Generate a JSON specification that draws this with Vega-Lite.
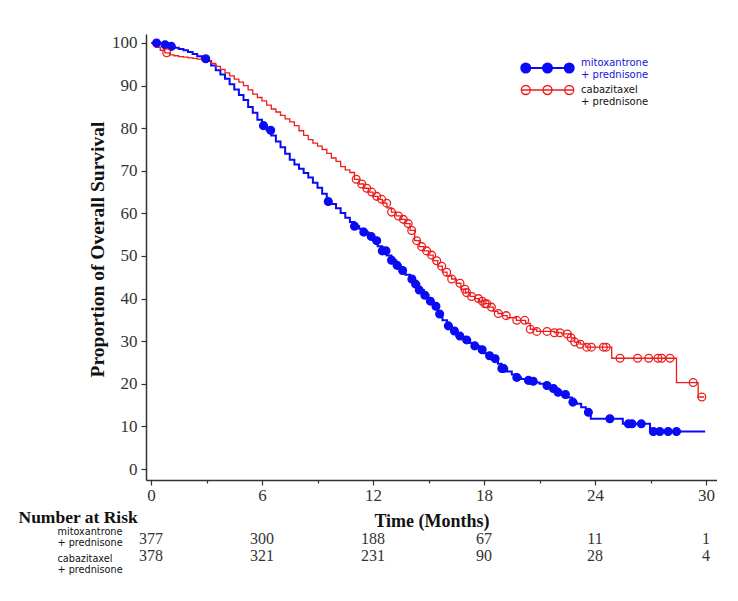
{
  "$schema": "https://vega.github.io/schema/vega-lite/v6.json",
  "background": "white",
  "padding": {"left": 18, "top": 33, "right": 0, "bottom": 0},
  "bounds": "flush",
  "spacing": 50.5,
  "config": {"view": {"stroke": null}},
  "datasets": {
    "km": [
      {"a":"M","t":0,"s":100},{"a":"M","t":0.6,"s":99.6},{"a":"M","t":1.0,"s":99.2},{"a":"M","t":1.25,"s":98.9},{"a":"M","t":1.5,"s":98.6},{"a":"M","t":1.75,"s":98.3},{"a":"M","t":2.0,"s":97.9},{"a":"M","t":2.25,"s":97.4},{"a":"M","t":2.5,"s":96.9},{"a":"M","t":2.75,"s":96.3},{"a":"M","t":3.0,"s":95.8},{"a":"M","t":3.25,"s":94.7},{"a":"M","t":3.5,"s":93.6},{"a":"M","t":3.75,"s":92.6},{"a":"M","t":4.0,"s":91.6},{"a":"M","t":4.25,"s":90.3},{"a":"M","t":4.5,"s":89.1},{"a":"M","t":4.75,"s":87.8},{"a":"M","t":5.0,"s":86.6},{"a":"M","t":5.25,"s":85.0},{"a":"M","t":5.5,"s":83.6},{"a":"M","t":5.75,"s":82.0},{"a":"M","t":6.0,"s":80.6},{"a":"M","t":6.25,"s":79.5},{"a":"M","t":6.5,"s":78.3},{"a":"M","t":6.75,"s":76.9},{"a":"M","t":7.0,"s":75.5},{"a":"M","t":7.25,"s":74.0},{"a":"M","t":7.5,"s":72.6},{"a":"M","t":7.75,"s":71.5},{"a":"M","t":8.0,"s":70.5},{"a":"M","t":8.25,"s":69.5},{"a":"M","t":8.5,"s":68.4},{"a":"M","t":8.75,"s":67.2},{"a":"M","t":9.0,"s":66.0},{"a":"M","t":9.25,"s":64.6},{"a":"M","t":9.5,"s":62.8},{"a":"M","t":9.75,"s":62.2},{"a":"M","t":10.0,"s":61.2},{"a":"M","t":10.25,"s":60.1},{"a":"M","t":10.5,"s":59.0},{"a":"M","t":10.75,"s":58.0},{"a":"M","t":11.0,"s":57.0},{"a":"M","t":11.25,"s":56.4},{"a":"M","t":11.5,"s":55.6},{"a":"M","t":11.75,"s":54.6},{"a":"M","t":12.0,"s":53.6},{"a":"M","t":12.25,"s":52.3},{"a":"M","t":12.5,"s":51.2},{"a":"M","t":12.75,"s":50.1},{"a":"M","t":13.0,"s":49.0},{"a":"M","t":13.25,"s":47.8},{"a":"M","t":13.5,"s":46.6},{"a":"M","t":13.75,"s":45.6},{"a":"M","t":14.0,"s":44.6},{"a":"M","t":14.25,"s":43.4},{"a":"M","t":14.5,"s":42.0},{"a":"M","t":14.75,"s":40.8},{"a":"M","t":15.0,"s":39.4},{"a":"M","t":15.25,"s":38.2},{"a":"M","t":15.5,"s":36.4},{"a":"M","t":15.75,"s":34.9},{"a":"M","t":16.0,"s":33.6},{"a":"M","t":16.25,"s":32.4},{"a":"M","t":16.5,"s":31.2},{"a":"M","t":16.75,"s":30.8},{"a":"M","t":17.0,"s":30.3},{"a":"M","t":17.25,"s":29.6},{"a":"M","t":17.5,"s":28.9},{"a":"M","t":17.75,"s":28.0},{"a":"M","t":18.0,"s":27.2},{"a":"M","t":18.25,"s":26.6},{"a":"M","t":18.5,"s":25.9},{"a":"M","t":18.75,"s":24.7},{"a":"M","t":18.95,"s":23.6},{"a":"M","t":19.25,"s":22.9},{"a":"M","t":19.5,"s":22.2},{"a":"M","t":19.75,"s":21.5},{"a":"M","t":20.0,"s":21.1},{"a":"M","t":20.25,"s":20.8},{"a":"M","t":20.5,"s":20.6},{"a":"M","t":20.75,"s":20.3},{"a":"M","t":21.0,"s":20.0},{"a":"M","t":21.25,"s":19.6},{"a":"M","t":21.5,"s":19.3},{"a":"M","t":21.75,"s":18.9},{"a":"M","t":22.0,"s":18.0},{"a":"M","t":22.25,"s":17.5},{"a":"M","t":22.5,"s":16.8},{"a":"M","t":22.75,"s":15.7},{"a":"M","t":23.0,"s":15.3},{"a":"M","t":23.25,"s":14.5},{"a":"M","t":23.5,"s":13.3},{"a":"M","t":23.77,"s":11.8},{"a":"M","t":25.5,"s":10.6},{"a":"M","t":26.97,"s":8.8},{"a":"M","t":29.95,"s":8.8},
      {"a":"C","t":0,"s":100},{"a":"C","t":0.25,"s":99.0},{"a":"C","t":0.5,"s":98.3},{"a":"C","t":0.75,"s":97.7},{"a":"C","t":1.0,"s":97.2},{"a":"C","t":1.25,"s":97.0},{"a":"C","t":1.5,"s":96.8},{"a":"C","t":1.75,"s":96.7},{"a":"C","t":2.0,"s":96.5},{"a":"C","t":2.25,"s":96.4},{"a":"C","t":2.5,"s":96.2},{"a":"C","t":2.75,"s":96.0},{"a":"C","t":3.0,"s":95.8},{"a":"C","t":3.25,"s":95.2},{"a":"C","t":3.5,"s":94.5},{"a":"C","t":3.75,"s":93.8},{"a":"C","t":4.0,"s":93.0},{"a":"C","t":4.25,"s":92.3},{"a":"C","t":4.5,"s":91.5},{"a":"C","t":4.75,"s":90.8},{"a":"C","t":5.0,"s":90.0},{"a":"C","t":5.25,"s":89.0},{"a":"C","t":5.5,"s":88.0},{"a":"C","t":5.75,"s":87.2},{"a":"C","t":6.0,"s":86.4},{"a":"C","t":6.25,"s":85.4},{"a":"C","t":6.5,"s":84.5},{"a":"C","t":6.75,"s":83.8},{"a":"C","t":7.0,"s":83.0},{"a":"C","t":7.25,"s":82.2},{"a":"C","t":7.5,"s":81.5},{"a":"C","t":7.75,"s":80.6},{"a":"C","t":8.0,"s":79.4},{"a":"C","t":8.25,"s":78.3},{"a":"C","t":8.5,"s":77.3},{"a":"C","t":8.75,"s":76.5},{"a":"C","t":9.0,"s":75.8},{"a":"C","t":9.25,"s":75.0},{"a":"C","t":9.5,"s":74.1},{"a":"C","t":9.75,"s":73.0},{"a":"C","t":10.0,"s":72.2},{"a":"C","t":10.25,"s":71.0},{"a":"C","t":10.5,"s":70.2},{"a":"C","t":10.75,"s":69.6},{"a":"C","t":11.0,"s":68.0},{"a":"C","t":11.25,"s":66.9},{"a":"C","t":11.5,"s":65.9},{"a":"C","t":11.75,"s":65.0},{"a":"C","t":12.0,"s":64.0},{"a":"C","t":12.25,"s":63.3},{"a":"C","t":12.5,"s":62.4},{"a":"C","t":12.75,"s":61.3},{"a":"C","t":13.0,"s":60.3},{"a":"C","t":13.25,"s":59.4},{"a":"C","t":13.5,"s":58.6},{"a":"C","t":13.75,"s":57.6},{"a":"C","t":14.0,"s":56.0},{"a":"C","t":14.25,"s":53.6},{"a":"C","t":14.5,"s":52.2},{"a":"C","t":14.75,"s":51.2},{"a":"C","t":15.0,"s":50.2},{"a":"C","t":15.25,"s":48.9},{"a":"C","t":15.5,"s":47.6},{"a":"C","t":15.75,"s":46.2},{"a":"C","t":16.0,"s":45.3},{"a":"C","t":16.25,"s":44.6},{"a":"C","t":16.5,"s":43.6},{"a":"C","t":16.75,"s":42.2},{"a":"C","t":17.0,"s":41.4},{"a":"C","t":17.25,"s":40.5},{"a":"C","t":17.5,"s":40.0},{"a":"C","t":17.75,"s":39.4},{"a":"C","t":18.0,"s":38.8},{"a":"C","t":18.25,"s":38.0},{"a":"C","t":18.5,"s":37.0},{"a":"C","t":18.75,"s":36.5},{"a":"C","t":19.0,"s":36.0},{"a":"C","t":19.25,"s":35.5},{"a":"C","t":19.75,"s":34.9},{"a":"C","t":20.25,"s":34.2},{"a":"C","t":20.5,"s":32.8},{"a":"C","t":20.85,"s":32.3},{"a":"C","t":21.8,"s":32.0},{"a":"C","t":22.2,"s":31.7},{"a":"C","t":22.7,"s":30.8},{"a":"C","t":22.9,"s":29.8},{"a":"C","t":23.2,"s":29.3},{"a":"C","t":23.5,"s":28.6},{"a":"C","t":24.9,"s":26.0},{"a":"C","t":28.4,"s":20.3},{"a":"C","t":29.57,"s":16.9},{"a":"C","t":29.9,"s":16.9}
    ],
    "censor": [
      {"a":"M","t":0.3,"s":100},{"a":"M","t":0.76,"s":99.6},{"a":"M","t":1.1,"s":99.2},{"a":"M","t":2.96,"s":96.3},{"a":"M","t":6.08,"s":80.6},{"a":"M","t":6.47,"s":79.5},{"a":"M","t":9.58,"s":62.8},{"a":"M","t":11.0,"s":57.0},{"a":"M","t":11.5,"s":55.6},{"a":"M","t":11.9,"s":54.6},{"a":"M","t":12.2,"s":53.6},{"a":"M","t":12.5,"s":51.2},{"a":"M","t":12.7,"s":51.2},{"a":"M","t":13.0,"s":49.0},{"a":"M","t":13.3,"s":47.8},{"a":"M","t":13.6,"s":46.6},{"a":"M","t":14.1,"s":44.6},{"a":"M","t":14.3,"s":43.4},{"a":"M","t":14.5,"s":42.0},{"a":"M","t":14.8,"s":40.8},{"a":"M","t":15.1,"s":39.4},{"a":"M","t":15.4,"s":38.2},{"a":"M","t":15.6,"s":36.4},{"a":"M","t":16.07,"s":33.6},{"a":"M","t":16.4,"s":32.4},{"a":"M","t":16.7,"s":31.2},{"a":"M","t":17.06,"s":30.3},{"a":"M","t":17.5,"s":28.9},{"a":"M","t":17.9,"s":28.0},{"a":"M","t":18.3,"s":26.6},{"a":"M","t":18.6,"s":25.9},{"a":"M","t":18.96,"s":23.6},{"a":"M","t":19.05,"s":23.6},{"a":"M","t":19.77,"s":21.5},{"a":"M","t":20.4,"s":20.8},{"a":"M","t":20.66,"s":20.6},{"a":"M","t":21.4,"s":19.6},{"a":"M","t":21.75,"s":18.9},{"a":"M","t":22.0,"s":18.0},{"a":"M","t":22.4,"s":17.5},{"a":"M","t":22.8,"s":15.7},{"a":"M","t":23.64,"s":13.3},{"a":"M","t":24.8,"s":11.8},{"a":"M","t":25.8,"s":10.6},{"a":"M","t":26.0,"s":10.6},{"a":"M","t":26.5,"s":10.6},{"a":"M","t":27.15,"s":8.8},{"a":"M","t":27.5,"s":8.8},{"a":"M","t":27.95,"s":8.8},{"a":"M","t":28.4,"s":8.8},
      {"a":"C","t":0.85,"s":97.7},{"a":"C","t":11.09,"s":68.0},{"a":"C","t":11.39,"s":66.9},{"a":"C","t":11.66,"s":65.9},{"a":"C","t":11.93,"s":65.0},{"a":"C","t":12.2,"s":64.0},{"a":"C","t":12.47,"s":63.3},{"a":"C","t":12.74,"s":62.4},{"a":"C","t":13.0,"s":60.3},{"a":"C","t":13.37,"s":59.4},{"a":"C","t":13.64,"s":58.6},{"a":"C","t":13.9,"s":57.6},{"a":"C","t":14.09,"s":56.0},{"a":"C","t":14.36,"s":53.6},{"a":"C","t":14.63,"s":52.2},{"a":"C","t":14.9,"s":51.2},{"a":"C","t":15.17,"s":50.2},{"a":"C","t":15.44,"s":48.9},{"a":"C","t":15.71,"s":47.6},{"a":"C","t":15.98,"s":46.2},{"a":"C","t":16.25,"s":44.6},{"a":"C","t":16.7,"s":43.6},{"a":"C","t":16.97,"s":42.2},{"a":"C","t":17.06,"s":41.4},{"a":"C","t":17.33,"s":40.5},{"a":"C","t":17.7,"s":40.0},{"a":"C","t":17.9,"s":39.4},{"a":"C","t":18.05,"s":38.8},{"a":"C","t":18.15,"s":38.8},{"a":"C","t":18.4,"s":38.0},{"a":"C","t":18.77,"s":36.5},{"a":"C","t":19.2,"s":36.0},{"a":"C","t":19.77,"s":34.9},{"a":"C","t":20.2,"s":34.9},{"a":"C","t":20.5,"s":32.8},{"a":"C","t":20.85,"s":32.3},{"a":"C","t":21.4,"s":32.3},{"a":"C","t":21.8,"s":32.0},{"a":"C","t":22.1,"s":32.0},{"a":"C","t":22.5,"s":31.7},{"a":"C","t":22.7,"s":30.8},{"a":"C","t":22.9,"s":29.8},{"a":"C","t":23.2,"s":29.3},{"a":"C","t":23.55,"s":28.6},{"a":"C","t":23.8,"s":28.6},{"a":"C","t":24.45,"s":28.6},{"a":"C","t":24.6,"s":28.6},{"a":"C","t":25.35,"s":26.0},{"a":"C","t":26.3,"s":26.0},{"a":"C","t":26.9,"s":26.0},{"a":"C","t":27.4,"s":26.0},{"a":"C","t":27.6,"s":26.0},{"a":"C","t":28.05,"s":26.0},{"a":"C","t":29.3,"s":20.3},{"a":"C","t":29.77,"s":16.9}
    ],
    "risk": [
      {"a":"M","t":0,"n":377},{"a":"M","t":6,"n":300},{"a":"M","t":12,"n":188},{"a":"M","t":18,"n":67},{"a":"M","t":24,"n":11},{"a":"M","t":30,"n":1},
      {"a":"C","t":0,"n":378},{"a":"C","t":6,"n":321},{"a":"C","t":12,"n":231},{"a":"C","t":18,"n":90},{"a":"C","t":24,"n":28},{"a":"C","t":30,"n":4}
    ]
  },
  "vconcat": [
    {
      "width": 571,
      "height": 446,
      "layer": [
        {
          "data": {"name": "km"},
          "mark": {"type": "line", "interpolate": "step-after"},
          "encoding": {
            "x": {"field": "t", "type": "quantitative",
              "scale": {"domain": [-0.27, 30.59], "nice": false, "zero": false},
              "axis": {
                "values": [0,3,6,9,12,15,18,21,24,27,30],
                "labelExpr": "datum.value % 6 == 0 ? datum.label : ''",
                "tickSize": {"condition": {"test": "datum.value % 6 == 0", "value": 5}, "value": 3},
                "grid": false, "labelFlush": false, "labelOverlap": false,
                "labelFont": "Liberation Serif", "labelFontSize": 17, "labelColor": "#333", "labelPadding": 2,
                "domainColor": "#333", "domainWidth": 1.5, "tickColor": "#333", "tickWidth": 1.2,
                "title": "Time (Months)", "titleFont": "Liberation Serif", "titleFontSize": 18, "titleFontWeight": "bold", "titleColor": "#111",
                "titleY": 41, "titleBaseline": "middle"
              }
            },
            "y": {"field": "s", "type": "quantitative",
              "scale": {"domain": [-2.58, 102.11], "nice": false, "zero": false},
              "axis": {
                "values": [0,5,10,15,20,25,30,35,40,45,50,55,60,65,70,75,80,85,90,95,100],
                "labelExpr": "datum.value % 10 == 0 ? datum.label : ''",
                "tickSize": {"condition": {"test": "datum.value % 10 == 0", "value": 5}, "value": 3},
                "grid": false, "labelFlush": false, "labelOverlap": false,
                "labelFont": "Liberation Serif", "labelFontSize": 17, "labelColor": "#333", "labelPadding": 4,
                "domainColor": "#333", "domainWidth": 1.5, "tickColor": "#333", "tickWidth": 1.2,
                "title": "Proportion of Overall Survival", "titleFont": "Liberation Serif", "titleFontSize": 19.5, "titleFontWeight": "bold", "titleColor": "#111",
                "titleX": -49, "titleY": 215, "titleAngle": -90, "titleAlign": "center", "titleBaseline": "middle"
              }
            },
            "stroke": {"field": "a", "type": "nominal",
              "scale": {"domain": ["M", "C"], "range": ["#0a0af5", "#ee1c1c"]},
              "legend": {
                "title": null, "orient": "none", "legendX": 374, "legendY": 24.5, "padding": 0,
                "symbolType": "M-1,0L1,0M-0.99,0A0.17,0.17,0,1,0,-0.65,0A0.17,0.17,0,1,0,-0.99,0ZM-0.17,0A0.17,0.17,0,1,0,0.17,0A0.17,0.17,0,1,0,-0.17,0ZM0.65,0A0.17,0.17,0,1,0,0.99,0A0.17,0.17,0,1,0,0.65,0Z",
                "symbolSize": 2809, "symbolOffset": 0,
                "symbolStrokeWidth": {"expr": "datum.value == 'M' ? 2.5 : 1.3"},
                "clipHeight": 19, "rowPadding": -8,
                "labelOffset": 6, "labelFont": "DejaVu Sans", "labelFontSize": 10,
                "labelColor": {"expr": "datum.value == 'M' ? '#1515d5' : '#111111'"},
                "labelBaseline": {"expr": "datum.value == 'M' ? 'bottom' : 'middle'"},
                "labelExpr": "datum.value == 'M' ? ['mitoxantrone', '\u00a0+ prednisone'] : ['cabazitaxel', '\u00a0+ prednisone']"
              }
            },
            "strokeWidth": {"field": "a", "type": "nominal", "scale": {"domain": ["M", "C"], "range": [2, 1.3]}, "legend": null},
            "order": {"field": "t", "type": "quantitative"}
          }
        },
        {
          "data": {"name": "censor"},
          "mark": {"type": "point", "shape": "circle", "size": 60, "strokeWidth": 1.3, "opacity": 1},
          "encoding": {
            "x": {"field": "t", "type": "quantitative"},
            "y": {"field": "s", "type": "quantitative"},
            "stroke": {"field": "a", "type": "nominal"},
            "fill": {"field": "a", "type": "nominal",
              "scale": {"domain": ["M", "C"], "range": ["#0a0af5", "transparent"]}}
          }
        }
      ]
    },
    {
      "width": 571,
      "height": 34,
      "data": {"name": "risk"},
      "mark": {"type": "text", "font": "Liberation Serif", "fontSize": 16, "color": "#333", "align": "center", "baseline": "middle"},
      "encoding": {
        "x": {"field": "t", "type": "quantitative", "scale": {"domain": [-0.27, 30.59], "nice": false, "zero": false}, "axis": null},
        "y": {"field": "a", "type": "nominal",
          "scale": {"type": "point", "domain": ["M", "C"], "padding": 0.5},
          "axis": {
            "title": "Number at Risk", "titleAngle": 0, "titleX": -128, "titleY": -13.5, "titleAlign": "left", "titleBaseline": "middle",
            "titleFont": "Liberation Serif", "titleFontSize": 17.5, "titleFontWeight": "bold", "titleColor": "#111",
            "domain": false, "ticks": false, "tickSize": 0, "labelPadding": 89, "labelAlign": "left", "labelBaseline": "middle",
            "labelFont": "DejaVu Sans", "labelFontSize": 9.7, "labelColor": "#111", "labelLineHeight": 11.5,
            "labelExpr": "datum.value == 'M' ? ['mitoxantrone', '\u00a0+ prednisone'] : ['cabazitaxel', '\u00a0+ prednisone']",
            "labelOffset": {"condition": {"test": "datum.value == 'M'", "value": -8}, "value": 2}
          }
        },
        "text": {"field": "n", "type": "quantitative"}
      }
    }
  ]
}
